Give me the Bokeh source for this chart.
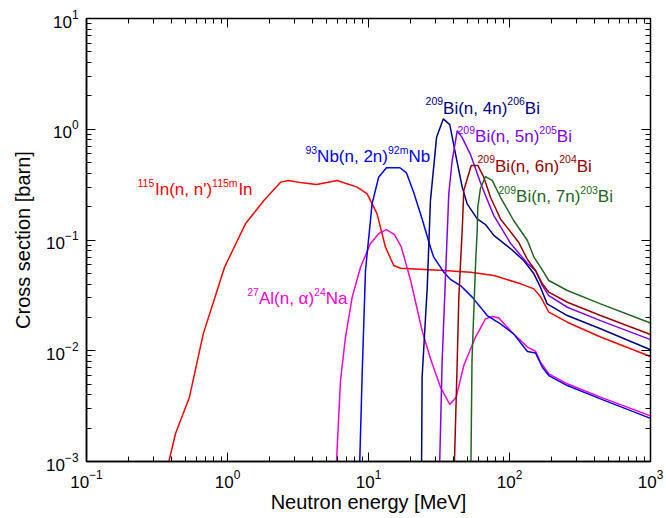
from bokeh.plotting import figure
from bokeh.models import Range1d, LogAxis, LogTicker, Label, CustomJSTickFormatter
from bokeh.embed import file_html
from bokeh.resources import INLINE

# ---------------- data (energy MeV, cross section barn) ----------------
in_E = [0.384, 0.428, 0.537, 0.673, 0.953, 1.34, 1.81, 2.38, 2.71, 3.39, 4.28, 6.0, 8.32, 9.79,
        11.5, 13.2, 15.1, 16.9, 34.2, 52.9, 77.4, 120, 149, 166, 190, 257, 442, 1000]
in_xs = [0.001, 0.00179, 0.00381, 0.0142, 0.0568, 0.140, 0.227, 0.333, 0.345, 0.328, 0.317, 0.345,
         0.300, 0.261, 0.172, 0.0861, 0.0589, 0.0556, 0.0531, 0.0512, 0.0478, 0.0402, 0.0362,
         0.0308, 0.0223, 0.0181, 0.0133, 0.00887]

al_E = [5.93, 6.33, 6.87, 7.66, 8.78, 10.3, 11.8, 13.4, 15.3, 17.1, 19.9, 24.0, 27.5, 32.4, 37.7,
        41.9, 47.4, 57.4, 67.6, 75.4, 83.7, 104, 134, 153, 166, 190, 257, 442, 1000]
al_xs = [0.001, 0.00539, 0.0133, 0.0305, 0.0568, 0.0924, 0.114, 0.124, 0.112, 0.0861, 0.0431,
         0.0152, 0.00851, 0.00469, 0.00327, 0.00381, 0.00736, 0.0133, 0.0194, 0.0204, 0.0199,
         0.0147, 0.0108, 0.0099, 0.0079, 0.00619, 0.00503, 0.00381, 0.00258]

nb_E = [8.67, 9.02, 9.52, 10.6, 11.8, 13.4, 16.7, 18.6, 20.9, 24.0, 27.5, 29.0, 34.2, 38.2, 44.9,
        54.4, 69.5, 86.3, 107, 134, 153, 171, 190, 257, 442, 1000]
nb_xs = [0.001, 0.00623, 0.0530, 0.212, 0.369, 0.449, 0.449, 0.403, 0.270, 0.155, 0.0861, 0.0700,
         0.0512, 0.0440, 0.0388, 0.0305, 0.0208, 0.0175, 0.0142, 0.00984, 0.00954, 0.00710,
         0.00597, 0.00485, 0.00368, 0.00245]

bi4_E = [23.8, 24.0, 26.1, 27.5, 30.4, 33.9, 37.7, 41.4, 46.2, 50.1, 59.0, 67.6, 77.4, 102, 126,
         149, 166, 185, 257, 442, 1000]
bi4_xs = [0.001, 0.00577, 0.0375, 0.227, 0.848, 1.24, 1.10, 0.600, 0.300, 0.212, 0.155, 0.138,
          0.110, 0.0833, 0.0653, 0.0495, 0.0373, 0.0265, 0.0208, 0.0158, 0.0102]

bi5_E = [32.0, 33.3, 37.1, 39.2, 42.6, 46.2, 52.9, 62.2, 67.6, 77.4, 86.3, 102, 134, 153, 171, 190,
         257, 442, 1000]
bi5_xs = [0.001, 0.00816, 0.261, 0.522, 0.97, 0.841, 0.591, 0.331, 0.252, 0.166, 0.132, 0.0929,
          0.0613, 0.0530, 0.0388, 0.0315, 0.0247, 0.0187, 0.0126]

bi6_E = [40.7, 42.6, 43.7, 44.9, 46.2, 47.4, 53.5, 59.6, 65.7, 73.3, 86.3, 102, 116, 134, 153, 171,
         190, 257, 442, 1000]
bi6_xs = [0.001, 0.00816, 0.0296, 0.0610, 0.122, 0.280, 0.471, 0.471, 0.369, 0.243, 0.155, 0.118,
          0.0955, 0.0667, 0.0530, 0.0402, 0.0338, 0.0274, 0.0208, 0.0140]

bi7_E = [53.3, 54.2, 57.4, 59.0, 59.6, 62.2, 67.6, 75.4, 86.3, 107, 134, 149, 166, 190, 257, 442, 1000]
bi7_xs = [0.001, 0.00816, 0.0588, 0.122, 0.197, 0.292, 0.374, 0.345, 0.243, 0.150, 0.0990, 0.0700,
          0.0568, 0.0431, 0.0350, 0.0265, 0.0178]

# reaction labels: list of (text, is_superscript)
lab_in = [("115", True), ("In(n, n')", False), ("115m", True), ("In", False)]
lab_al = [("27", True), ("Al(n, α)", False), ("24", True), ("Na", False)]
lab_nb = [("93", True), ("Nb(n, 2n)", False), ("92m", True), ("Nb", False)]
lab_bi4 = [("209", True), ("Bi(n, 4n)", False), ("206", True), ("Bi", False)]
lab_bi5 = [("209", True), ("Bi(n, 5n)", False), ("205", True), ("Bi", False)]
lab_bi6 = [("209", True), ("Bi(n, 6n)", False), ("204", True), ("Bi", False)]
lab_bi7 = [("209", True), ("Bi(n, 7n)", False), ("203", True), ("Bi", False)]

series = [
    (in_E, in_xs, "#ff0000", lab_in, (0.230, 0.2856)),
    (al_E, al_xs, "#ff00cc", lab_al, (1.38, 0.0296)),
    (nb_E, nb_xs, "#0000ff", lab_nb, (3.57, 0.567)),
    (bi4_E, bi4_xs, "#000080", lab_bi4, (25.4, 1.54)),
    (bi5_E, bi5_xs, "#8000ff", lab_bi5, (42.8, 0.860)),
    (bi6_E, bi6_xs, "#990000", lab_bi6, (59.3, 0.461)),
    (bi7_E, bi7_xs, "#226622", lab_bi7, (83.6, 0.247)),
]

FONT = "Liberation Sans"
MAIN = 17
SUP = 10.5
RAISE = 7
WIDTHS = {"0": .556, "1": .556, "2": .556, "3": .556, "4": .556, "5": .556, "6": .556, "7": .556,
          "8": .556, "9": .556, "B": .667, "i": .222, "(": .333, ")": .333, "n": .556, ",": .278,
          " ": .278, "I": .278, "m": .833, "'": .191, "N": .722, "b": .556, "A": .667, "l": .222,
          "a": .556, "α": .58}


def twidth(s, size):
    return sum(WIDTHS.get(c, 0.556) for c in s) * size


p = figure(width=666, height=518, x_axis_type="log", y_axis_type="log",
           x_range=Range1d(0.1, 1000), y_range=Range1d(1e-3, 10),
           output_backend="svg", toolbar_location=None,
           min_border_left=86, min_border_right=16, min_border_top=18, min_border_bottom=57)
p.xgrid.visible = False
p.ygrid.visible = False
p.outline_line_color = "black"
p.outline_line_width = 1.5
p.background_fill_color = "white"
p.border_fill_color = "white"

for ax in (p.xaxis[0], p.yaxis[0]):
    ax.major_tick_in = 9
    ax.major_tick_out = 0
    ax.minor_tick_in = 5
    ax.minor_tick_out = 0
    ax.major_tick_line_color = "black"
    ax.minor_tick_line_color = "black"
    ax.axis_line_color = "black"
    ax.axis_line_width = 1.5
    ax.major_label_text_font = FONT
    ax.major_label_text_font_size = "17px"
    ax.major_label_text_color = "black"
    ax.axis_label_text_font = FONT
    ax.axis_label_text_font_size = "20px"
    ax.axis_label_text_font_style = "normal"
    ax.axis_label_text_color = "black"
    ax.ticker.num_minor_ticks = 10

p.xaxis.axis_label = "Neutron energy [MeV]"
p.yaxis.axis_label = "Cross section [barn]"
p.xaxis.major_label_standoff = 8
p.yaxis.major_label_standoff = 8
p.xaxis.axis_label_standoff = 0
p.yaxis.axis_label_standoff = 9

for loc in ("above", "right"):
    ax = LogAxis(ticker=LogTicker(num_minor_ticks=10),
                 formatter=CustomJSTickFormatter(code="return ''"))
    ax.major_tick_in = 9
    ax.major_tick_out = 0
    ax.minor_tick_in = 5
    ax.minor_tick_out = 0
    ax.major_label_standoff = 0
    ax.axis_line_color = None
    p.add_layout(ax, loc)

for E, xs, color, parts, (lx, ly) in series:
    p.line(E, xs, line_color=color, line_width=1.5)
    off = 0.0
    for txt, sup in parts:
        size = SUP if sup else MAIN
        p.add_layout(Label(x=lx, y=ly, x_offset=off, y_offset=RAISE if sup else 0, text=txt,
                           text_font=FONT, text_font_size=f"{size}px", text_color=color,
                           text_baseline="alphabetic", text_align="left"))
        off += twidth(txt, size)

open("out.html", "w").write(file_html(p, INLINE))
